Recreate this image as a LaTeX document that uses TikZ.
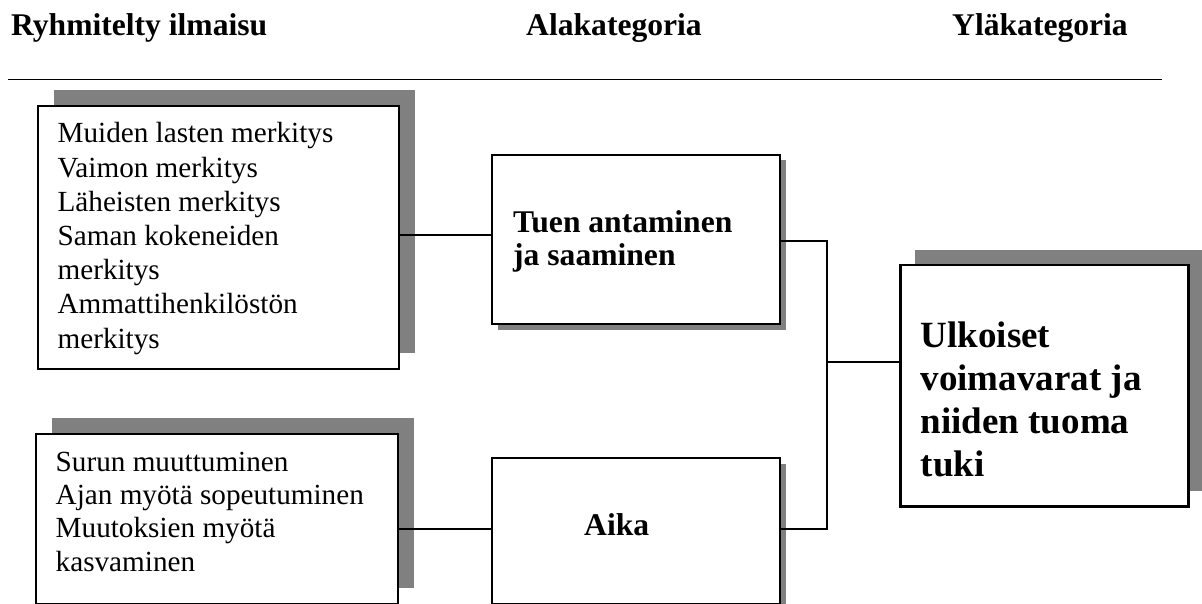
\documentclass[tikz,border=0pt]{standalone}
\usepackage{fontspec}
\setmainfont{Liberation Serif}
\usetikzlibrary{shadows}
\definecolor{shadowgray}{HTML}{808080}
\begin{document}
\begin{tikzpicture}[x=1bp,y=-1bp,
  box/.style={draw=black, line width=2bp, fill=white, anchor=north west, inner sep=0pt},
  farshadow/.style={general shadow={fill=shadowgray, shadow xshift=#1, shadow yshift=#1}},
  nearshadow/.style={general shadow={fill=shadowgray, shadow xshift=5.5bp, shadow yshift=-5.5bp}},
  link/.style={line width=1.5bp},
  body/.style={anchor=base west, inner sep=0pt, font=\fontsize{29.2bp}{#1}\selectfont},
  head/.style={anchor=base west, inner sep=0pt, font=\fontsize{31.6bp}{#1}\selectfont\bfseries},
  big/.style={anchor=base west, inner sep=0pt, font=\fontsize{37bp}{43bp}\selectfont\bfseries},
]
\useasboundingbox (0,0) rectangle (1202,604);

% column headings and the rule under them
\node[head=34bp] (h1) at (11,36) {Ryhmitelty ilmaisu};
\node[head=34bp, anchor=base] (h2) at (614,36) {Alakategoria};
\node[head=34bp, anchor=base] (h3) at (1040,36) {Yläkategoria};
\coordinate (ruleL) at (8,79.5);
\coordinate (ruleR) at (1162,79.5);
\draw[line width=1.5bp] (ruleL) -- (ruleR);

% boxes
\node[box, farshadow=16bp, minimum width=361.5bp, minimum height=263bp] (b1) at (36.5,105) {};
\node[box, farshadow=16bp, minimum width=362.5bp, minimum height=170bp] (b3) at (34.5,433) {};
\node[box, nearshadow, minimum width=288bp, minimum height=169bp] (tuen) at (491,154) {};
\node[box, nearshadow, minimum width=288bp, minimum height=146bp] (aika) at (491,457) {};
\node[box, farshadow=15bp, line width=2.5bp, minimum width=288bp, minimum height=241bp] (rb) at (899,264) {};

% texts
\node[body=34.2bp] (t1) at (57.4,143) {\vtop{\hbox{Muiden lasten merkitys}\hbox{Vaimon merkitys}\hbox{Läheisten merkitys}\hbox{Saman kokeneiden}\hbox{merkitys}\hbox{Ammattihenkilöstön}\hbox{merkitys}}};
\node[body=33.1bp] (t3) at (55.5,471.7) {\vtop{\hbox{Surun muuttuminen}\hbox{Ajan myötä sopeutuminen}\hbox{Muutoksien myötä}\hbox{kasvaminen}}};
\node[head=33.6bp] (ttuen) at (513,232.3) {\vtop{\hbox{Tuen antaminen}\hbox{ja saaminen}}};
\node[head=34bp] (taika) at (584,535) {Aika};
\node[big] (trb) at (920.5,347.5) {\vtop{\hbox{Ulkoiset}\hbox{voimavarat ja}\hbox{niiden tuoma}\hbox{tuki}}};

% connectors
\coordinate (ja) at (0,235);
\coordinate (jb) at (0,529);
\coordinate (top) at (827,241);
\coordinate (mid) at (827,362);
\coordinate (bot) at (827,529);
\draw[link] (b1.east |- ja) -- (tuen.west |- ja);
\draw[link] (b3.east |- jb) -- (aika.west |- jb);
\draw[link] (tuen.east |- top) -- (top) -- (bot) -- (aika.east |- bot);
\draw[link] (mid) -- (rb.west |- mid);
\end{tikzpicture}
\end{document}
